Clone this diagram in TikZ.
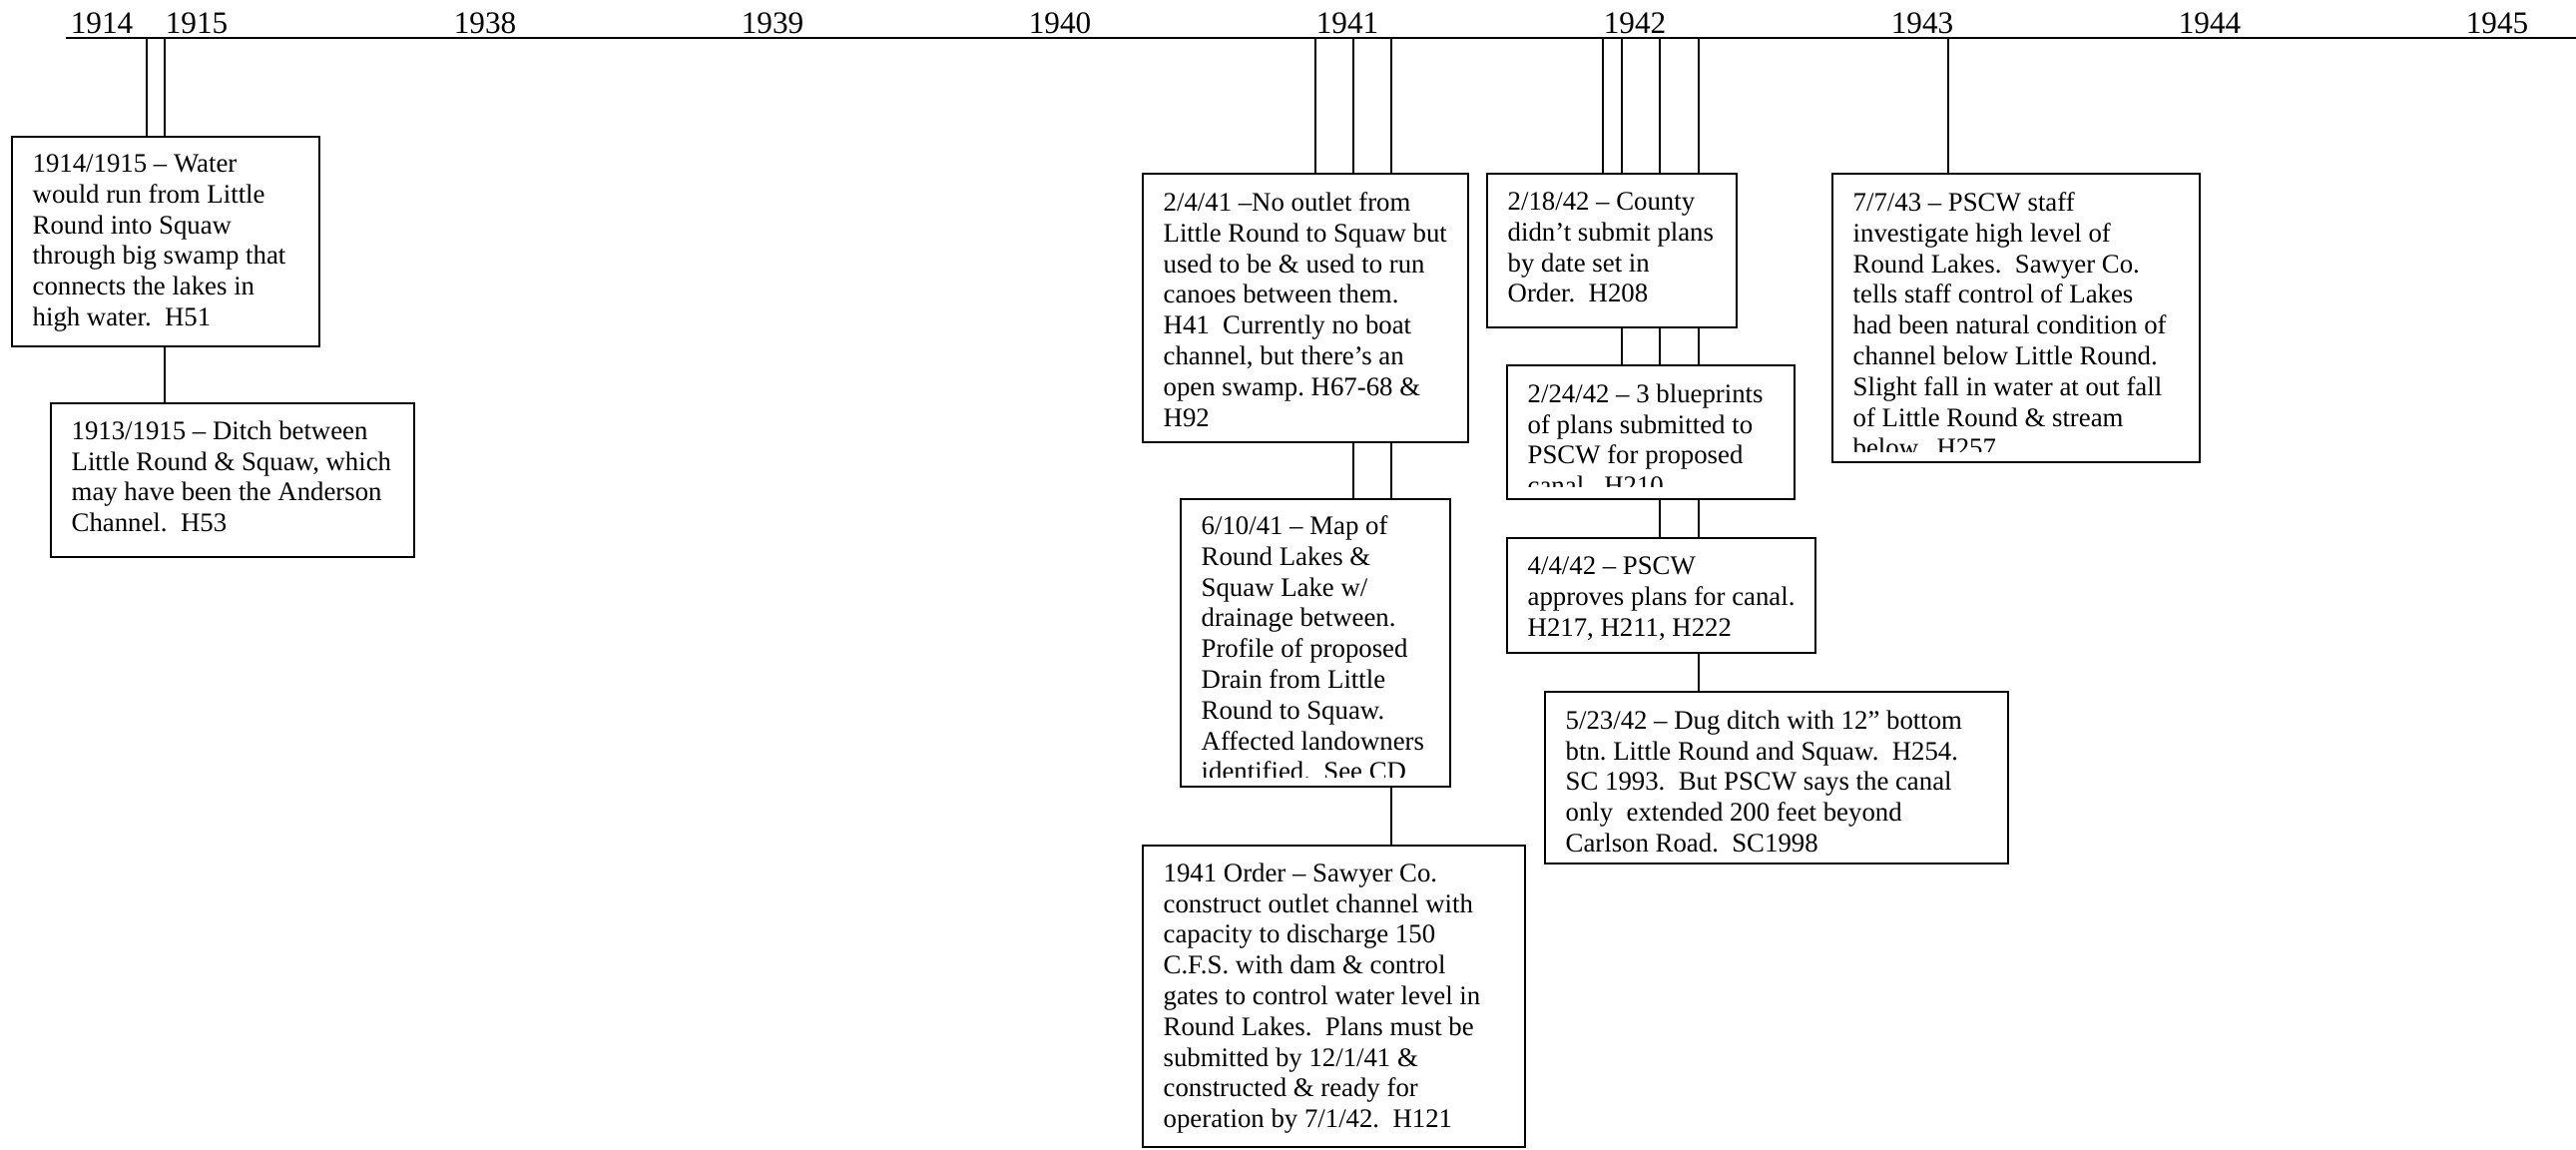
\documentclass[tikz,border=0pt]{standalone}
\usepackage{fontspec}
\setmainfont{Liberation Serif}
\usetikzlibrary{fit}
\frenchspacing

\begin{document}
\begin{tikzpicture}[x = 0.448pt, y = -0.448pt]
	\tikzstyle{evbox} = [rectangle, draw = black, line width = 0.7pt, inner sep = 0pt]
	\tikzstyle{evtext} = [anchor = north west, align = left, inner sep = 0pt, font = \fontsize{12}{13.8}\selectfont]
	\tikzstyle{yr} = [anchor = base, inner sep = 0pt, font = \fontsize{14}{16}\selectfont]
	\tikzstyle{line} = [line width = 0.6pt]
	\tikzstyle{axis} = [line width = 1pt]
	\useasboundingbox (0,0) rectangle (2581,1151);
	% time axis and years
	\coordinate(tl0) at (66,38);
	\coordinate(tl1) at (2581,38);
	\draw[axis](tl0) -- (tl1);
	\node(y14)[yr] at (102,33) {1914};
	\node(y15)[yr] at (197,33) {1915};
	\node(y38)[yr] at (486,33) {1938};
	\node(y39)[yr] at (774,33) {1939};
	\node(y40)[yr] at (1062,33) {1940};
	\node(y41)[yr] at (1350,33) {1941};
	\node(y42)[yr] at (1638,33) {1942};
	\node(y43)[yr] at (1926,33) {1943};
	\node(y44)[yr] at (2214,33) {1944};
	\node(y45)[yr] at (2502,33) {1945};
	\coordinate(s1) at (147,38);
	\coordinate(s2) at (165,38);
	\coordinate(s3) at (1318,38);
	\coordinate(s4) at (1356,38);
	\coordinate(s5) at (1394,38);
	\coordinate(s6) at (1606,38);
	\coordinate(s7) at (1625,38);
	\coordinate(s8) at (1663,38);
	\coordinate(s9) at (1702,38);
	\coordinate(s10) at (1952,38);
	% boxes
	\node(b1)[evbox, fit = {(12,137) (320,347)}] {};
	\node(t1)[evtext] at ([shift = {(21,18)}]b1.north west) {1914/1915 -- Water\\would run from Little\\Round into Squaw\\through big swamp that\\connects the lakes in\\high water.~ H51};
	\node(b2)[evbox, fit = {(51,404) (415,558)}] {};
	\node(t2)[evtext] at ([shift = {(21,18)}]b2.north west) {1913/1915 -- Ditch between\\Little Round \& Squaw, which\\may have been the Anderson\\Channel.~ H53};
	\node(b3)[evbox, fit = {(1145,174) (1471,443)}] {};
	\node(t3)[evtext] at ([shift = {(21,19)}]b3.north west) {2/4/41 --No outlet from\\Little Round to Squaw but\\used to be \& used to run\\canoes between them.\\H41~ Currently no boat\\channel, but there’s an\\open swamp. H67-68 \&\\H92};
	\node(b4)[evbox, fit = {(1183,500) (1453,788)}] {};
	\begin{scope}
		\clip (b4.north west) rectangle ([yshift = 4.5pt]b4.south east);
		\node(t4)[evtext] at ([shift = {(21,17)}]b4.north west) {6/10/41 -- Map of\\Round Lakes \&\\Squaw Lake w/\\drainage between.\\Profile of proposed\\Drain from Little\\Round to Squaw.\\Affected landowners\\identified.~ See CD};
	\end{scope}
	\node(b5)[evbox, fit = {(1145,847) (1528,1149)}] {};
	\node(t5)[evtext] at ([shift = {(21,18)}]b5.north west) {1941 Order -- Sawyer Co.\\construct outlet channel with\\capacity to discharge 150\\C.F.S. with dam \& control\\gates to control water level in\\Round Lakes.~ Plans must be\\submitted by 12/1/41 \&\\constructed \& ready for\\operation by 7/1/42.~ H121};
	\node(b6)[evbox, fit = {(1490,174) (1740,328)}] {};
	\node(t6)[evtext] at ([shift = {(21,19)}]b6.north west) {2/18/42 -- County\\didn’t submit plans\\by date set in\\Order.~ H208};
	\node(b7)[evbox, fit = {(1510,366) (1798,500)}] {};
	\begin{scope}
		\clip (b7.north west) rectangle ([yshift = 6pt]b7.south east);
		\node(t7)[evtext] at ([shift = {(21,19)}]b7.north west) {2/24/42 -- 3 blueprints\\of plans submitted to\\PSCW for proposed\\canal.~ H210};
	\end{scope}
	\node(b8)[evbox, fit = {(1510,539) (1819,654)}] {};
	\node(t8)[evtext] at ([shift = {(21,19)}]b8.north west) {4/4/42 -- PSCW\\approves plans for canal.\\H217, H211, H222};
	\node(b9)[evbox, fit = {(1548,693) (2012,865)}] {};
	\node(t9)[evtext] at ([shift = {(21,19)}]b9.north west) {5/23/42 -- Dug ditch with 12” bottom\\btn. Little Round and Squaw.~ H254.\\SC 1993.~ But PSCW says the canal\\only~ extended 200 feet beyond\\Carlson Road.~ SC1998};
	\node(b10)[evbox, fit = {(1836,174) (2204,463)}] {};
	\begin{scope}
		\clip (b10.north west) rectangle ([yshift = 5pt]b10.south east);
		\node(t10)[evtext] at ([shift = {(21,19)}]b10.north west) {7/7/43 -- PSCW staff\\investigate high level of\\Round Lakes.~ Sawyer Co.\\tells staff control of Lakes\\had been natural condition of\\channel below Little Round.\\Slight fall in water at out fall\\of Little Round \& stream\\below.~ H257};
	\end{scope}
	% connectors
	\draw[line](s1) -- (s1 |- b1.north);
	\draw[line](s2) -- (s2 |- b1.north);
	\draw[line](b1.south -| s2) -- (b2.north -| s2);
	\draw[line](s3) -- (s3 |- b3.north);
	\draw[line](s4) -- (s4 |- b3.north);
	\draw[line](s5) -- (s5 |- b3.north);
	\draw[line](b3.south -| s4) -- (b4.north -| s4);
	\draw[line](b3.south -| s5) -- (b4.north -| s5);
	\draw[line](b4.south -| s5) -- (b5.north -| s5);
	\draw[line](s6) -- (s6 |- b6.north);
	\draw[line](s7) -- (s7 |- b6.north);
	\draw[line](s8) -- (s8 |- b6.north);
	\draw[line](s9) -- (s9 |- b6.north);
	\draw[line](b6.south -| s7) -- (b7.north -| s7);
	\draw[line](b6.south -| s8) -- (b7.north -| s8);
	\draw[line](b6.south -| s9) -- (b7.north -| s9);
	\draw[line](b7.south -| s8) -- (b8.north -| s8);
	\draw[line](b7.south -| s9) -- (b8.north -| s9);
	\draw[line](b8.south -| s9) -- (b9.north -| s9);
	\draw[line](s10) -- (s10 |- b10.north);
\end{tikzpicture}
\end{document}
